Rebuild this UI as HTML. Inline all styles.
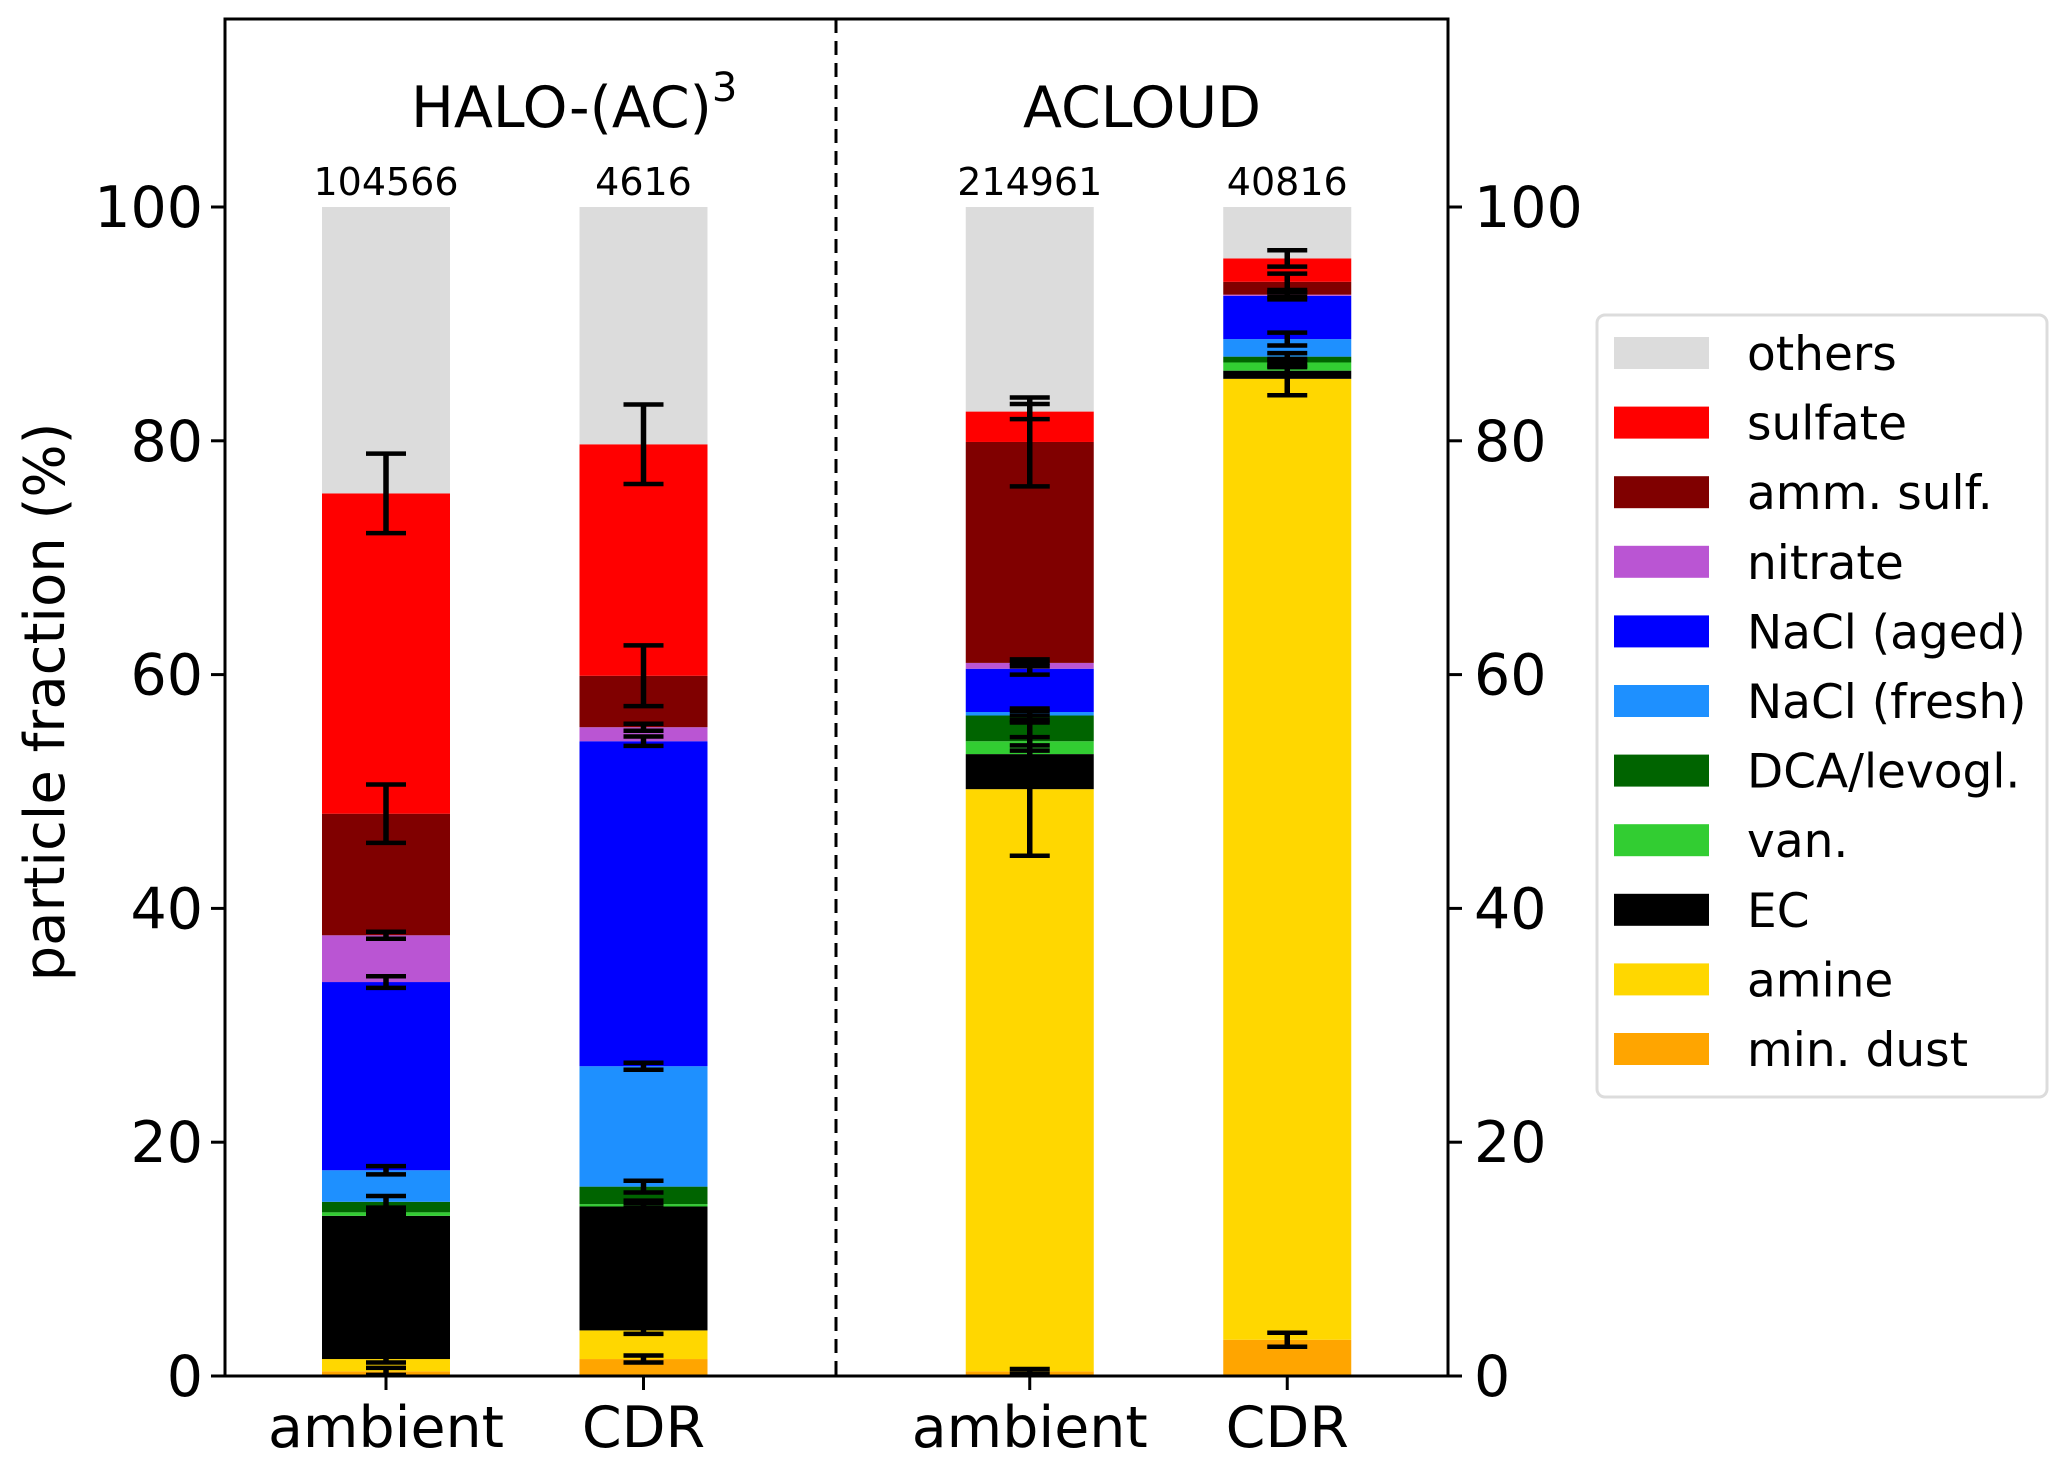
<!DOCTYPE html>
<html><head><meta charset="utf-8"><style>
html,body{margin:0;padding:0;background:#fff;}
svg{display:block;font-family:"DejaVu Sans","Liberation Sans",sans-serif;}
</style></head><body>
<svg id="chart" width="2067" height="1466" viewBox="0 0 2067 1466" xmlns="http://www.w3.org/2000/svg"></svg>
<script>
const categories = ["ambient","CDR","ambient","CDR"];
const counts = ["104566","4616","214961","40816"];
const species = ["min. dust","amine","EC","van.","DCA/levogl.","NaCl (fresh)","NaCl (aged)","nitrate","amm. sulf.","sulfate","others"];
const colors = ["#ffa500","#ffd700","#000000","#32cd32","#006400","#1e90ff","#0000ff","#ba55d3","#800000","#ff0000","#dcdcdc"];
const haloAmbient = [0.4,1.05,12.25,0.3,0.9,2.7,16.1,4.0,10.4,27.4,24.5];
const haloCDR = [1.45,2.45,10.6,0.2,1.5,10.3,27.8,1.2,4.4,19.8,20.3];
const acloudAmbient = [0.4,49.8,3.0,1.1,2.2,0.3,3.7,0.5,18.9,2.6,17.5];
const acloudCDR = [3.1,82.2,0.7,0.7,0.5,1.5,3.7,0.1,1.1,2.0,4.4];
const errHaloAmbient = [0.3,0.3,0.3,0.2,0.5,0.35,0.5,0.3,2.5,3.4];
const errHaloCDR = [0.3,0.3,0.3,0.3,0.5,0.3,0.4,0.3,2.6,3.4];
const errAcloudAmbient = [0.2,5.7,0.3,0.35,0.4,0.3,0.5,0.3,3.8,0.65];
const errAcloudCDR = [0.6,1.4,0.3,0.3,0.3,0.55,0.3,0.2,0.7,0.7];
const positions = [0,1,2.5,3.5];
const yTicks = [0,20,40,60,80,100];
const legendOrder = ["others","sulfate","amm. sulf.","nitrate","NaCl (aged)","NaCl (fresh)","DCA/levogl.","van.","EC","amine","min. dust"];

const series = [haloAmbient,haloCDR,acloudAmbient,acloudCDR];
const errs = [errHaloAmbient,errHaloCDR,errAcloudAmbient,errAcloudCDR];
const NS="http://www.w3.org/2000/svg";
const svg=document.getElementById('chart');
const L=225,R=1448,T=19,B=1376;
const xS=p=>386+p*257.5;
const yS=v=>1376-v*11.69;
const bw=128;
function mk(tag,attrs,parent){const e=document.createElementNS(NS,tag);for(const k in attrs)e.setAttribute(k,attrs[k]);(parent||svg).appendChild(e);return e;}

series.forEach((vals,i)=>{
  const g=mk('g',{});
  
  
  let cum=0;
  vals.forEach((v,j)=>{
    const r=mk('rect',{x:xS(positions[i])-bw/2,y:yS(cum+v),width:bw,height:v*11.69,fill:colors[j]},g);
    
    
    cum+=v;
  });
});
series.forEach((vals,i)=>{
  let cum=0;const cx=xS(positions[i]);
  errs[i].forEach((e,j)=>{
    cum+=vals[j];
    const g=mk('g',{stroke:'#000','stroke-width':4.5});
    
    
    mk('line',{x1:cx,x2:cx,y1:yS(cum+e),y2:yS(cum-e),'stroke-width':5.5},g);
    mk('line',{x1:cx-20,x2:cx+20,y1:yS(cum+e),y2:yS(cum+e)},g);
    mk('line',{x1:cx-20,x2:cx+20,y1:yS(cum-e),y2:yS(cum-e)},g);
  });
});
const dv=mk('line',{x1:836,x2:836,y1:T,y2:B,stroke:'#000','stroke-width':3,'stroke-dasharray':'14,8'});


const fr=mk('rect',{x:L,y:T,width:R-L,height:B-T,fill:'none',stroke:'#000','stroke-width':3});


yTicks.forEach(t=>{
  const y=yS(t);
  mk('line',{x1:L-14,x2:L,y1:y,y2:y,stroke:'#000','stroke-width':3});
  mk('line',{x1:R,x2:R+14,y1:y,y2:y,stroke:'#000','stroke-width':3});
  const a=mk('text',{x:L-22,y:y+20,'text-anchor':'end','font-size':57});a.textContent=t;
  
  
  const b=mk('text',{x:R+26,y:y+20,'text-anchor':'start','font-size':57});b.textContent=t;
  
  
});
categories.forEach((c,i)=>{
  const x=xS(positions[i]);
  mk('line',{x1:x,x2:x,y1:B,y2:B+14,stroke:'#000','stroke-width':3});
  const t=mk('text',{x:x,y:1447,'text-anchor':'middle','font-size':57});t.textContent=c;
  
  
  const n=mk('text',{x:x,y:195,'text-anchor':'middle','font-size':38});n.textContent=counts[i];
  
  
});
const t1=mk('text',{x:411,y:127,'font-size':57});t1.innerHTML='HALO-(AC)<tspan dy="-26" font-size="40">3</tspan>';


const t2=mk('text',{x:1142,y:127,'text-anchor':'middle','font-size':57});t2.textContent='ACLOUD';


const yl=mk('text',{x:0,y:0,'text-anchor':'middle','font-size':56,transform:'translate(64,702) rotate(-90)'});yl.textContent='particle fraction (%)';


const lg=mk('g',{});


mk('rect',{x:1597,y:315,width:450,height:782,rx:8,fill:'#fff',stroke:'#dcdcdc','stroke-width':3},lg);
legendOrder.forEach((s,k)=>{
  const j=species.indexOf(s);
  const y=337+k*69.6;
  const e=mk('g',{},lg);
  
  
  mk('rect',{x:1614,y:y,width:95,height:32,fill:colors[j]},e);
  const tx=mk('text',{x:1747,y:y+33,'font-size':47},e);tx.textContent=s;
});
</script>
</body></html>
